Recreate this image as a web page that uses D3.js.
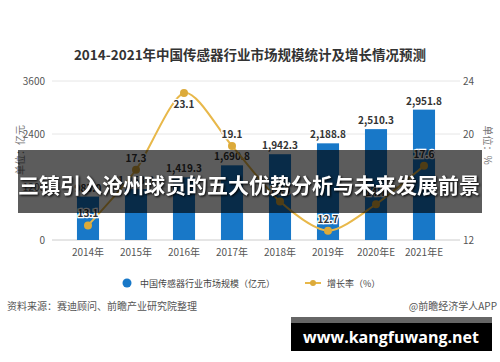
<!DOCTYPE html>
<html lang="zh">
<head>
<meta charset="utf-8">
<title>传感器行业市场规模</title>
<script src="https://d3js.org/d3.v7.min.js"></script>
<style>
  body { margin: 0; background: #fff; }
  svg { display: block; font-family: "Noto Sans CJK SC", "Noto Sans", sans-serif; }
  .tick-label { font-size: 10px; fill: #555; }
  .bar-label { font-size: 10px; font-weight: bold; fill: #333; }
  .rate-label { font-size: 10px; font-weight: bold; fill: #333; stroke: #fff; stroke-width: 2.5px; paint-order: stroke; }
</style>
</head>
<body>
<svg id="chart" width="500" height="362"></svg>
<script>
// data
const years = ["2014年", "2015年", "2016年", "2017年", "2018年", "2019年", "2020年E", "2021年E"];
const marketSize = [983.0, 1153.0, 1419.3, 1690.8, 1942.3, 2188.8, 2510.3, 2951.8];
const growthRate = [13.1, 17.3, 23.1, 19.1, 14.9, 12.7, 14.7, 17.6];
const leftTicks = [0, 1200, 2400, 3600];
const rightTicks = [12, 16, 20, 24];

const svg = d3.select("#chart");

const x = d3.scaleBand().domain(years).range([64, 448]).paddingInner(0.54).paddingOuter(0.27);
const yL = d3.scaleLinear().domain([0, 3600]).range([240, 81]);
const yR = d3.scaleLinear().domain([12, 24]).range([240, 81]);

// title
svg.append("text")
  .attr("x", 250).attr("y", 60)
  .attr("text-anchor", "middle")
  .style("font-size", "13.5px").style("font-weight", "bold").style("fill", "#333")
  .text("2014-2021年中国传感器行业市场规模统计及增长情况预测");

// grid lines
svg.append("g").selectAll("line")
  .data(leftTicks)
  .join("line")
  .attr("x1", 52).attr("x2", 460)
  .attr("y1", d => yL(d)).attr("y2", d => yL(d))
  .attr("stroke", d => d === 0 ? "#ccc" : "#e6e6e6")
  .attr("stroke-width", 1);

// left axis labels
svg.append("g").selectAll("text")
  .data(leftTicks)
  .join("text")
  .attr("class", "tick-label")
  .attr("x", 45).attr("y", d => yL(d) + 3.5)
  .attr("text-anchor", "end")
  .text(d => d);

// right axis labels
svg.append("g").selectAll("text")
  .data(rightTicks)
  .join("text")
  .attr("class", "tick-label")
  .attr("x", 463).attr("y", d => yR(d) + 3.5)
  .text(d => d);

// axis titles
svg.append("text")
  .attr("transform", "translate(24,150) rotate(-90)")
  .attr("text-anchor", "middle")
  .style("font-size", "10px").style("fill", "#777")
  .text("单位：亿元");
svg.append("text")
  .attr("transform", "translate(484,145) rotate(90)")
  .attr("text-anchor", "middle")
  .style("font-size", "10px").style("fill", "#777")
  .text("单位：%");

// category labels
svg.append("g").selectAll("text")
  .data(years)
  .join("text")
  .attr("class", "tick-label")
  .attr("x", d => x(d) + x.bandwidth() / 2).attr("y", 256)
  .attr("text-anchor", "middle")
  .text(d => d);

// bars
svg.append("g").selectAll("rect")
  .data(marketSize)
  .join("rect")
  .attr("x", (d, i) => x(years[i]))
  .attr("y", d => yL(d))
  .attr("width", x.bandwidth())
  .attr("height", d => yL(0) - yL(d))
  .attr("fill", "#1878c8");

svg.append("g").selectAll("text")
  .data(marketSize)
  .join("text")
  .attr("class", "bar-label")
  .attr("x", (d, i) => x(years[i]) + x.bandwidth() / 2)
  .attr("y", d => yL(d) - 5)
  .attr("text-anchor", "middle")
  .text(d => d3.format(",.1f")(d));

// growth line
const pts = growthRate.map((d, i) => [x(years[i]) + x.bandwidth() / 2, yR(d)]);
svg.append("path")
  .attr("d", d3.line().curve(d3.curveCardinal.tension(0.2))(pts))
  .attr("fill", "none")
  .attr("stroke", "#e8b84a")
  .attr("stroke-width", 2);

svg.append("g").selectAll("circle")
  .data(pts)
  .join("circle")
  .attr("cx", d => d[0]).attr("cy", d => d[1])
  .attr("r", 4)
  .attr("fill", "#dcaa3a");

svg.append("g").selectAll("text")
  .data(growthRate)
  .join("text")
  .attr("class", "rate-label")
  .attr("x", (d, i) => pts[i][0])
  .attr("y", (d, i) => i === 2 ? pts[i][1] + 15 : pts[i][1] - 8)
  .attr("text-anchor", "middle")
  .text(d => d3.format(".1f")(d));

// legend
svg.append("circle").attr("cx", 127).attr("cy", 283).attr("r", 4.5).attr("fill", "#1878c8");
svg.append("text").attr("x", 140).attr("y", 286.5)
  .style("font-size", "9px").style("fill", "#444")
  .text("中国传感器行业市场规模（亿元）");
svg.append("line").attr("x1", 305).attr("x2", 321).attr("y1", 283).attr("y2", 283)
  .attr("stroke", "#e8b84a").attr("stroke-width", 2);
svg.append("circle").attr("cx", 313).attr("cy", 283).attr("r", 3).attr("fill", "#dcaa3a");
svg.append("text").attr("x", 327).attr("y", 286.5)
  .style("font-size", "9px").style("fill", "#444")
  .text("增长率（%）");

// source line
svg.append("text").attr("x", 7).attr("y", 310)
  .style("font-size", "10px").style("fill", "#555")
  .text("资料来源：赛迪顾问、前瞻产业研究院整理");
svg.append("text").attr("x", 497).attr("y", 310)
  .attr("text-anchor", "end")
  .style("font-size", "10px").style("fill", "#555")
  .text("@前瞻经济学人APP");

// headline banner over the chart
svg.append("rect")
  .attr("x", 18).attr("y", 150).attr("width", 464).attr("height", 63)
  .attr("fill", "#000").attr("opacity", 0.64);
svg.append("text")
  .attr("x", 249).attr("y", 193)
  .attr("text-anchor", "middle")
  .style("font-size", "21px").style("font-weight", "bold").style("fill", "#fff")
  .style("filter", "drop-shadow(1px 1px 1px #000)")
  .text("三镇引入沧州球员的五大优势分析与未来发展前景");

// site watermark
svg.append("rect").attr("x", 291).attr("y", 317).attr("width", 201).attr("height", 34).attr("fill", "#000");
svg.append("rect").attr("x", 291).attr("y", 317).attr("width", 201).attr("height", 6).attr("fill", "#666");
svg.append("text")
  .attr("x", 391).attr("y", 343)
  .attr("text-anchor", "middle")
  .style("font-size", "16px").style("font-weight", "bold").style("fill", "#fff")
  .style("font-family", "'Open Sans', 'DejaVu Sans', sans-serif")
  .text("www.kangfuwang.net");
</script>
</body>
</html>
